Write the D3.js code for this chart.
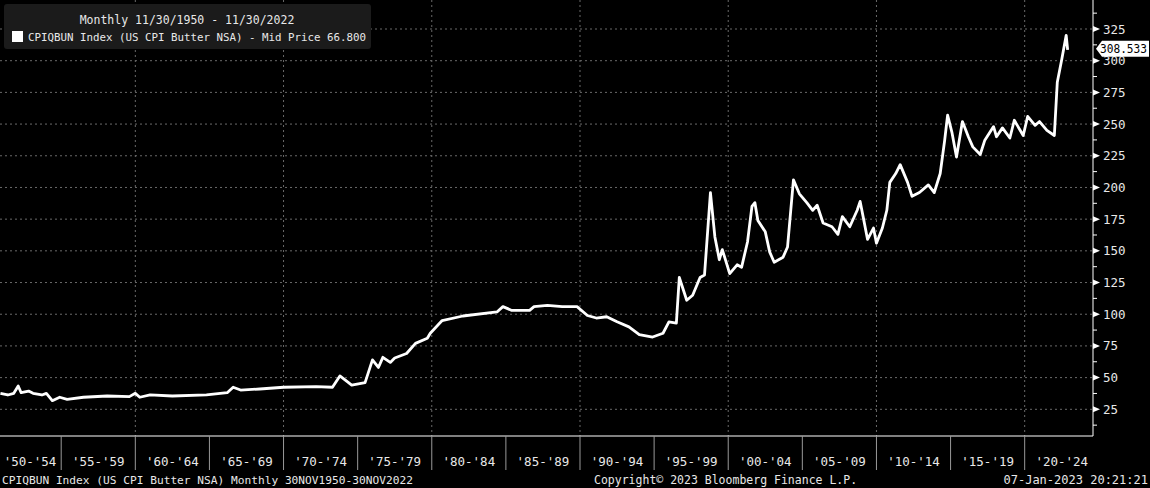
<!DOCTYPE html>
<html><head><meta charset="utf-8">
<script src="https://cdn.jsdelivr.net/npm/d3@7"></script>
<style>body{margin:0;background:#000}svg{display:block}text{font-family:"DejaVu Sans Mono",monospace;fill:#e8e8e8}</style>
</head><body><svg id="c" width="1150" height="488"></svg>
<script>
const years = [1950.9,1951.4,1951.8,1952.1,1952.3,1952.8,1953.1,1953.7,1954.0,1954.4,1954.9,1955.4,1956.5,1958.1,1959.6,1960.0,1960.3,1961.0,1962.5,1964.8,1966.2,1966.6,1967.1,1968.4,1970.0,1972.2,1973.3,1973.8,1974.6,1975.5,1976.0,1976.4,1976.7,1977.2,1977.5,1978.3,1978.9,1979.7,1979.9,1980.7,1982.1,1984.4,1984.8,1985.4,1986.6,1986.9,1987.8,1988.8,1989.8,1990.5,1991.1,1991.8,1992.5,1993.3,1994.0,1994.9,1995.6,1996.0,1996.5,1996.7,1997.2,1997.6,1998.1,1998.4,1998.8,1999.1,1999.4,1999.6,2000.1,2000.6,2000.9,2001.3,2001.6,2001.8,2002.0,2002.5,2002.8,2003.1,2003.7,2004.0,2004.4,2004.8,2005.3,2005.7,2006.0,2006.4,2007.0,2007.4,2007.7,2008.2,2008.7,2008.9,2009.1,2009.4,2009.8,2010.0,2010.4,2010.7,2010.9,2011.3,2011.6,2012.1,2012.4,2012.9,2013.5,2013.9,2014.3,2014.6,2014.8,2015.1,2015.4,2015.8,2016.2,2016.5,2017.0,2017.3,2017.9,2018.1,2018.5,2019.0,2019.3,2019.9,2020.2,2020.7,2021.0,2021.5,2022.0,2022.2,2022.5,2022.8,2022.9];
const values = [37.6,36.3,37.6,43.4,38.1,39.4,37.6,36.3,37.6,31.8,34.5,32.9,34.5,35.5,35.0,37.6,34.5,36.3,35.5,36.3,38.1,42.4,40.2,41.0,42.4,42.9,42.4,51.3,44,46,64,58,66,62,65.5,69,77,81,85,95,98.6,101.8,106,103,103,106,107,106,106,99,97,98,94,90,84,82,85,94,93,129,111,115,129,131,196,161,143,151,132,139,137,157,185,188,174,165,149,141,145,153,206,195,188,182,186,172,169,163,177,169,182,189,177,159,168,156,168,182,204,211,218,204,193,196,202,196,211,237,257,243,224,252,240,232,226,237,248,240,247,239,253,241,256,249,252,245,241,283,301,320,308.533];
const yTicks = [25,50,75,100,125,150,175,200,225,250,275,300,325];
const periodLabels = ["'50-'54","'55-'59","'60-'64","'65-'69","'70-'74","'75-'79","'80-'84","'85-'89","'90-'94","'95-'99","'00-'04","'05-'09","'10-'14","'15-'19","'20-'24"];
const periodStarts = [1950,1955,1960,1965,1970,1975,1980,1985,1990,1995,2000,2005,2010,2015,2020];

const svg = d3.select("#c");
const R = 1093, B = 436;
const x = d3.scaleLinear().domain([1955,1990]).range([61.2,580]);
const y = d3.scaleLinear().domain([25,325]).range([409.3,29]);

svg.append("g").selectAll("line").data(yTicks).join("line")
  .attr("x1",0).attr("x2",R).attr("y1",d=>y(d)).attr("y2",d=>y(d))
  .attr("stroke","#6a6a6a").attr("stroke-dasharray","2,3");
svg.append("g").selectAll("line").data(periodStarts.filter(d=>d%10===0 && x(d)>0)).join("line")
  .attr("x1",d=>x(d)).attr("x2",d=>x(d)).attr("y1",0).attr("y2",B)
  .attr("stroke","#6a6a6a").attr("stroke-dasharray","2,3");

const data = years.map((t,i)=>[t,values[i]]);
svg.append("path").datum(data)
  .attr("d", d3.line().x(d=>x(d[0])).y(d=>y(d[1])))
  .attr("fill","none").attr("stroke","#fff").attr("stroke-width",2.8).attr("stroke-linejoin","round");

svg.append("line").attr("x1",R).attr("x2",R).attr("y1",0).attr("y2",B).attr("stroke","#fff");
svg.append("line").attr("x1",0).attr("x2",R).attr("y1",B).attr("y2",B).attr("stroke","#fff");

const ax = svg.append("g");
ax.selectAll("path").data(yTicks).join("path")
  .attr("d",d=>`M${R},${y(d)-3}L${R+7},${y(d)}L${R},${y(d)+3}Z`).attr("fill","#fff");
const minor = d3.range(12.5, 345, 25);
ax.selectAll("line.mn").data(minor).join("line").attr("class","mn")
  .attr("x1",R).attr("x2",R+4).attr("y1",d=>y(d)).attr("y2",d=>y(d)).attr("stroke","#fff");
ax.selectAll("text").data(yTicks).join("text")
  .attr("x",R+10).attr("y",d=>y(d)+4.5).attr("font-size",12.5).text(d=>d);

const lv = values[values.length-1], ly = y(lv) - 1;
svg.append("path").attr("d",`M${R+3},${ly}L${R+9},${ly-8}L${1149},${ly-8}L${1149},${ly+8}L${R+9},${ly+8}Z`).attr("fill","#fff");
svg.append("text").attr("x",1100).attr("y",ly+4.5).attr("font-size",12).attr("textLength",47).attr("lengthAdjust","spacingAndGlyphs").style("fill","#000").text(lv.toFixed(3));

const seps = periodStarts.slice(1);
svg.append("g").selectAll("line").data(seps).join("line")
  .attr("x1",d=>x(d)).attr("x2",d=>x(d)).attr("y1",B).attr("y2",470).attr("stroke","#999");
svg.append("g").selectAll("text").data(periodStarts).join("text")
  .attr("x",d=>d===1950 ? 30 : x(d+2.5)).attr("y",466).attr("text-anchor","middle").attr("font-size",12.5)
  .text((d,i)=>periodLabels[i]);

svg.append("text").attr("x",2).attr("y",484).attr("font-size",11.2).text("CPIQBUN Index (US CPI Butter NSA)  Monthly 30NOV1950-30NOV2022");
svg.append("text").attr("x",594).attr("y",484).attr("font-size",11.5).text("Copyright\u00a9 2023 Bloomberg Finance L.P.");
svg.append("text").attr("x",1148).attr("y",484).attr("font-size",12).attr("text-anchor","end").text("07-Jan-2023 20:21:21");

svg.append("rect").attr("x",4).attr("y",4).attr("width",367).attr("height",45).attr("rx",3).attr("fill","#1b1b1b");
svg.append("text").attr("x",187).attr("y",24).attr("text-anchor","middle").attr("font-size",11.5).text("Monthly 11/30/1950 - 11/30/2022");
svg.append("rect").attr("x",12).attr("y",31).attr("width",11).attr("height",11).attr("fill","#fff");
svg.append("text").attr("x",28).attr("y",41).attr("font-size",10.8).text("CPIQBUN Index (US CPI Butter NSA) - Mid Price 66.800");
</script></body></html>
